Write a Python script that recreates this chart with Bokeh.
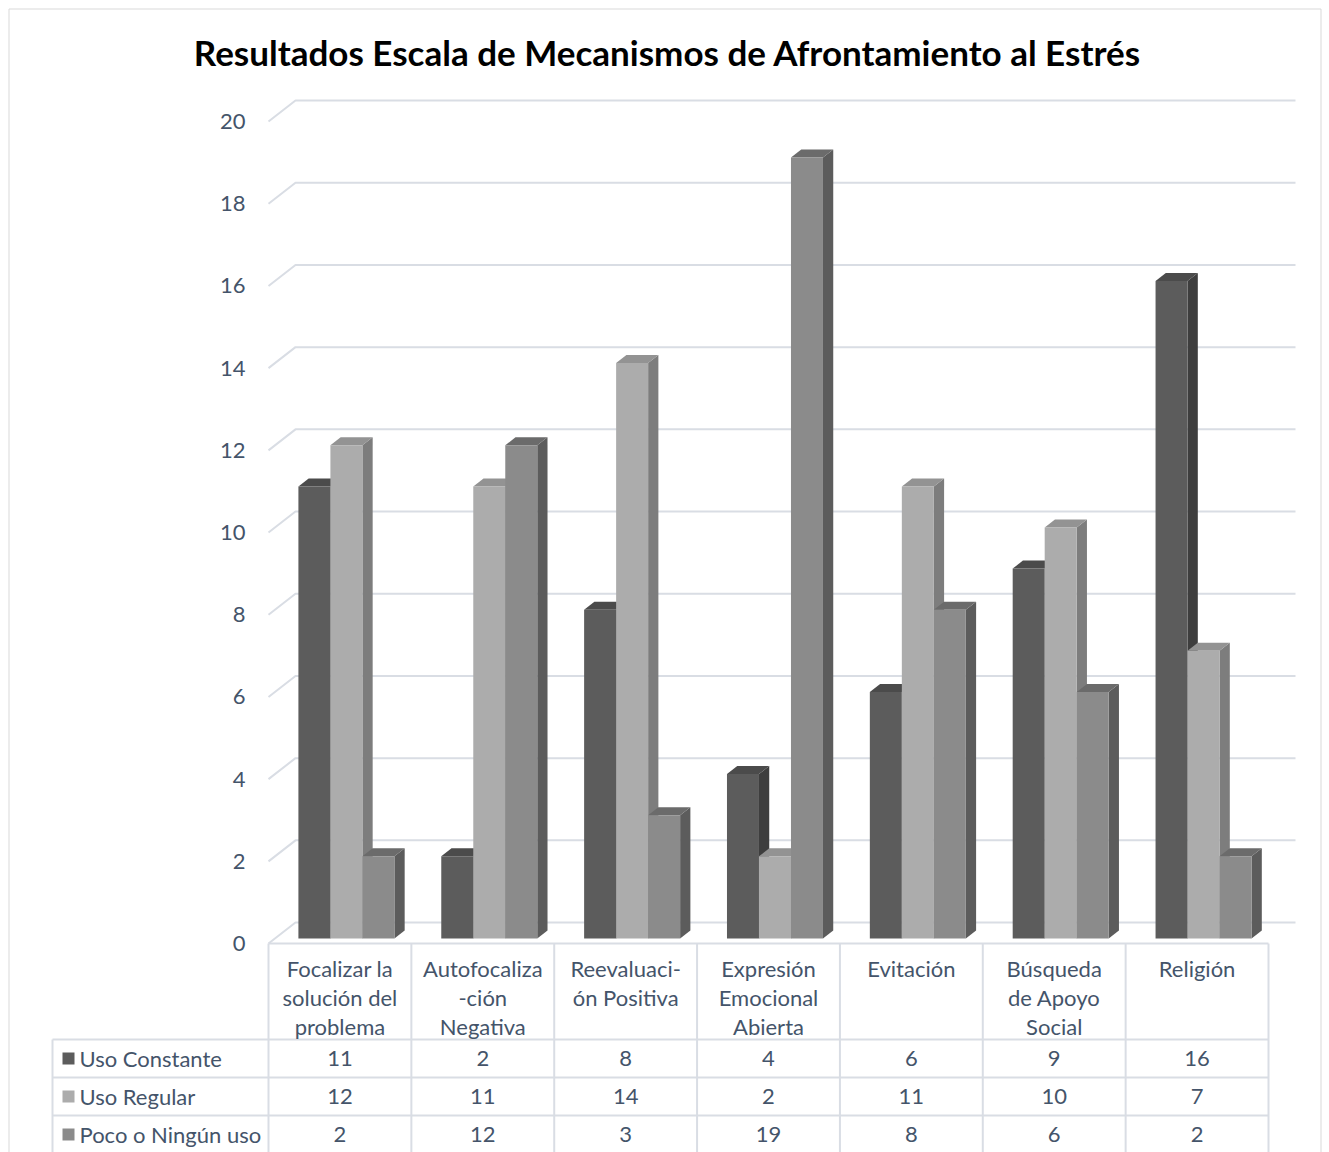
from bokeh.plotting import figure
from bokeh.models import Range1d
from bokeh.core.properties import value
from bokeh.embed import file_html
from bokeh.resources import INLINE

# ---------------- data ----------------
title = "Resultados Escala de Mecanismos de Afrontamiento al Estrés"
categories = [
    "Focalizar la\nsolución del\nproblema",
    "Autofocaliza\n-ción\nNegativa",
    "Reevaluaci-\nón Positiva",
    "Expresión\nEmocional\nAbierta",
    "Evitación",
    "Búsqueda\nde Apoyo\nSocial",
    "Religión",
]
series_names = ["Uso Constante", "Uso Regular", "Poco o Ningún uso"]
uso_constante = [11, 2, 8, 4, 6, 9, 16]
uso_regular = [12, 11, 14, 2, 11, 10, 7]
poco_uso = [2, 12, 3, 19, 8, 6, 2]
y_ticks = [0, 2, 4, 6, 8, 10, 12, 14, 16, 18, 20]

series_values = [uso_constante, uso_regular, poco_uso]
front_colors = ["#5c5c5c", "#acacac", "#8b8b8b"]
side_colors = ["#3e3e3e", "#7d7d7d", "#5c5c5c"]
top_colors = ["#4b4b4b", "#939393", "#6b6b6b"]

# ---------------- geometry (pixels -> data units) ----------------
W, H = 1329, 1152
X0 = 268.0            # left edge of the front of the plot box
COLW = 1000.0 / 7     # width of one category
BASE = 938.0          # pixel row of the bar baseline
UNIT = 41.1           # pixels per value unit
n = len(categories)


def px_x(px):
    return (px - X0) / COLW


def px_y(py):
    return (BASE - py) / UNIT


DX = 27.0 / COLW       # depth offset of the back wall (x)
DY = 21.0 / UNIT       # depth offset of the back wall (y)
F0 = 0.24              # depth position of the bars' front faces
BD = 0.38              # bar depth as a fraction of the box depth
BW = 0.224             # bar width (category units)
GAP = (1 - 3 * BW) / 2
bdx, bdy = BD * DX, BD * DY

p = figure(width=W, height=H, output_backend="svg", toolbar_location=None,
           x_range=Range1d(px_x(0), px_x(W)), y_range=Range1d(px_y(H), px_y(0)),
           x_axis_type=None, y_axis_type=None, min_border=0)
p.min_border_left = p.min_border_right = p.min_border_top = p.min_border_bottom = 0
p.grid.visible = False
p.outline_line_color = None
p.background_fill_color = "white"
p.border_fill_color = "white"

grid_col = "#d9dde4"
text_col = "#44546a"
font = value("Lato")
fs = "22px"

# outer border
p.multi_line(xs=[[px_x(8.5), px_x(8.5), px_x(1320.5), px_x(1320.5)]],
             ys=[[px_y(H), px_y(8.5), px_y(8.5), px_y(H)]],
             line_color="#d9d9d9", line_width=1)

# back wall grid lines + side wall diagonals
gx, gy = [], []
for v in y_ticks:
    gx.append([0, DX, n + DX])
    gy.append([v - F0 * DY, v + (1 - F0) * DY, v + (1 - F0) * DY])
p.multi_line(xs=gx, ys=gy, line_color=grid_col, line_width=2)

# y tick labels
p.text(x=[px_x(245)] * len(y_ticks), y=[v - F0 * DY for v in y_ticks],
       text=[str(v) for v in y_ticks], text_align="right", text_baseline="middle",
       text_font=font, text_font_size=fs, text_color=text_col)

# bars (3D look: side, top, front)
for i in range(n):
    for s in range(3):
        v = series_values[s][i]
        xl = i + F0 * DX + GAP + s * BW
        xr = xl + BW
        p.patch(x=[xr, xr, xr + bdx, xr + bdx], y=[0, v, v + bdy, bdy],
                fill_color=side_colors[s], line_color=None)
        p.patch(x=[xl, xr, xr + bdx, xl + bdx], y=[v, v, v + bdy, v + bdy],
                fill_color=top_colors[s], line_color=None)
        p.quad(left=[xl], right=[xr], bottom=[0], top=[v],
               fill_color=front_colors[s], line_color=None)

# title
p.text(x=[px_x(667)], y=[px_y(51)], text=[title], text_align="center",
       text_baseline="middle", text_font=font, text_font_style="bold",
       text_font_size="35px", text_color="black")

# ---------------- data table ----------------
top_y = -F0 * DY
row_lines = [1039, 1077, 1115]
row_centers = [1058, 1096, 1134]
tx, ty = [], []
# header top border
tx.append([0, n]); ty.append([top_y, top_y])
for r in row_lines:
    tx.append([px_x(52), n]); ty.append([px_y(r), px_y(r)])
for i in range(n + 1):
    tx.append([i, i]); ty.append([top_y, px_y(H + 5)])
tx.append([px_x(52), px_x(52)]); ty.append([px_y(row_lines[0]), px_y(H + 5)])
p.multi_line(xs=tx, ys=ty, line_color=grid_col, line_width=2)

# category labels
lx, ly, lt = [], [], []
for i, c in enumerate(categories):
    for k, line in enumerate(c.split("\n")):
        lx.append(i + 0.5); ly.append(px_y(968 + 29 * k)); lt.append(line)
p.text(x=lx, y=ly, text=lt, text_align="center", text_baseline="middle",
       text_font=font, text_font_size=fs, text_color=text_col)

# rows
for s in range(3):
    cy = px_y(row_centers[s])
    p.rect(x=[px_x(68)], y=[cy], width=12 / COLW, height=12 / UNIT,
           fill_color=front_colors[s], line_color=None)
    p.text(x=[px_x(79)], y=[cy], text=[series_names[s]], text_align="left",
           text_baseline="middle", text_font=font, text_font_size=fs,
           text_color=text_col)
    p.text(x=[i + 0.5 for i in range(n)], y=[cy] * n,
           text=[str(v) for v in series_values[s]], text_align="center",
           text_baseline="middle", text_font=font, text_font_size=fs,
           text_color=text_col)

open("out.html", "w").write(file_html(p, INLINE))
